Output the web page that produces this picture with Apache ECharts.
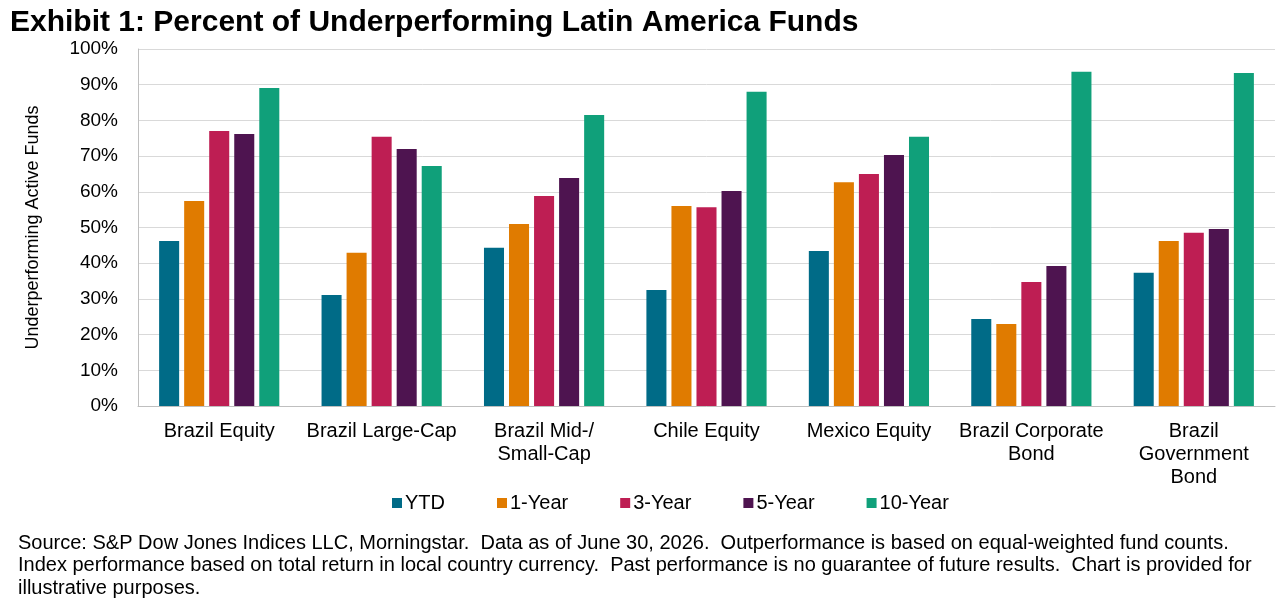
<!DOCTYPE html><html><head><meta charset="utf-8"><script src="https://cdn.jsdelivr.net/npm/echarts@6/dist/echarts.min.js"></script>
<style>body{margin:0;background:#fff}#c{width:1278px;height:610px}</style></head><body><div id="c"></div><script>
const categories=["Brazil Equity","Brazil Large-Cap","Brazil Mid-/\nSmall-Cap","Chile Equity","Mexico Equity","Brazil Corporate\nBond","Brazil\nGovernment\nBond"];
const seriesNames=["YTD","1-Year","3-Year","5-Year","10-Year"];
const ytd=[46.2,31.1,44.3,32.5,43.4,24.4,37.3];
const y1=[57.4,42.9,51.0,56.0,62.7,23.0,46.2];
const y3=[77.0,75.4,58.8,55.7,65.0,34.7,48.5];
const y5=[76.2,72.0,63.9,60.2,70.3,39.2,49.6];
const y10=[89.1,67.2,81.5,88.0,75.4,93.6,93.3];
const colors=["#006B87","#E07B00","#BE1E53","#4E1450","#10A07A"];
const data=[ytd,y1,y3,y5,y10];
const F="Liberation Sans, Arial, sans-serif";
echarts.init(document.getElementById('c')).setOption({
animation:false,
title:{text:"Exhibit 1: Percent of Underperforming Latin America Funds",left:5,top:3,textStyle:{fontFamily:F,fontSize:30,fontWeight:"bold",color:"#000"}},
graphic:[{type:"text",left:18,top:532,style:{text:"Source: S&P Dow Jones Indices LLC, Morningstar.  Data as of June 30, 2026.  Outperformance is based on equal-weighted fund counts.\nIndex performance based on total return in local country currency.  Past performance is no guarantee of future results.  Chart is provided for\nillustrative purposes.",font:"20px "+F,fill:"#000",lineHeight:22.5}}],
legend:{top:488,left:387,itemWidth:10,itemHeight:10,itemGap:52,icon:"rect",textStyle:{fontFamily:F,fontSize:20,color:"#000",padding:[0,0,0,-2]},data:seriesNames},
grid:{left:138,right:3,top:49,bottom:204},
xAxis:{type:"category",data:categories,axisTick:{show:false},axisLine:{lineStyle:{color:"#bfbfbf"}},axisLabel:{interval:0,fontFamily:F,fontSize:20,color:"#000",lineHeight:23,margin:14}},
yAxis:{type:"value",min:0,max:100,interval:10,name:"Underperforming Active Funds",nameLocation:"middle",nameGap:96,nameTextStyle:{fontFamily:F,fontSize:18,color:"#000"},axisLine:{show:true,lineStyle:{color:"#bfbfbf"}},axisLabel:{formatter:"{value}%",fontFamily:F,fontSize:19,color:"#000",margin:20},splitLine:{lineStyle:{color:"#d9d9d9"}}},
series:data.map((d,i)=>({name:seriesNames[i],type:"bar",data:d,itemStyle:{color:colors[i]},barGap:"25%",barCategoryGap:"26%"}))
});
</script></body></html>
